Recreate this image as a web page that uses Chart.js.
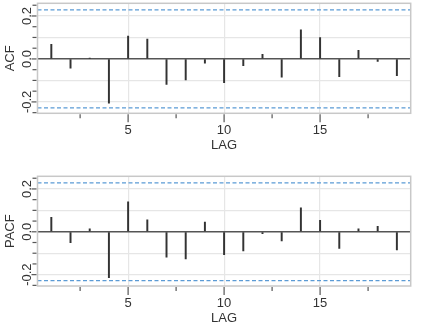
<!DOCTYPE html>
<html>
<head>
<meta charset="utf-8">
<script src="https://cdn.jsdelivr.net/npm/chart.js@4.4.1/dist/chart.umd.min.js"></script>
<style>
  html, body { margin:0; padding:0; background:#fff; }
  #wrap { position:relative; width:423px; height:325px; }
  .pane { position:absolute; left:0; width:423px; }
</style>
</head>
<body>
<div id="wrap">
  <div class="pane" style="top:0;height:163px"><canvas id="acf" width="423" height="163"></canvas></div>
  <div class="pane" style="top:163px;height:162px"><canvas id="pacf" width="423" height="162"></canvas></div>
</div>
<script>
// correlogramas: ACF em cima, PACF embaixo
const lags = [1,2,3,4,5,6,7,8,9,10,11,12,13,14,15,16,17,18,19];
const acfVals  = [0.068,-0.043,0.003,-0.206,0.107,0.093,-0.118,-0.098,-0.020,-0.110,-0.031,0.022,-0.085,0.135,0.100,-0.082,0.040,-0.012,-0.078];
const pacfVals = [0.067,-0.051,0.014,-0.214,0.140,0.056,-0.118,-0.127,0.045,-0.107,-0.089,-0.009,-0.043,0.112,0.054,-0.078,0.014,0.026,-0.085];
const confLimit = 0.228;          // 2/sqrt(n)
const xRange = [0.28, 19.72];
const yRange = [-0.253, 0.259];
const yTickLabels = ["-0.2","0.0","0.2"];
const xTickLabels = ["5","10","15"];
const xTitle = "LAG";

const FONT = '13px "Liberation Sans", Arial, sans-serif';
const near = (v, step)=> Math.abs(v/step - Math.round(v/step)) < 1e-6;
const tv = c=> (c && c.tick) ? c.tick.value : NaN;

const decorPlugin = {
  id: "decor",
  afterDraw(chart){
    const ctx = chart.ctx, a = chart.chartArea;
    const xs = chart.scales.x, ys = chart.scales.y;
    ctx.save();
    // caixa
    ctx.strokeStyle = "#c8c8c8"; ctx.lineWidth = 1.5;
    ctx.strokeRect(a.left, a.top, a.right-a.left, a.bottom-a.top);
    // marcas dos eixos
    ctx.strokeStyle = "#555"; ctx.lineWidth = 1.2;
    ys.ticks.forEach(t=>{
      const y = ys.getPixelForValue(t.value);
      const len = near(t.value, 0.2) ? 5 : 4;
      ctx.beginPath(); ctx.moveTo(a.left-1, y); ctx.lineTo(a.left-1-len, y); ctx.stroke();
    });
    xs.ticks.forEach(t=>{
      const x = xs.getPixelForValue(t.value);
      const len = near(t.value, 5) ? 8 : 4;
      ctx.beginPath(); ctx.moveTo(x, a.bottom+1); ctx.lineTo(x, a.bottom+1+len); ctx.stroke();
    });
    // textos
    ctx.fillStyle = "#333"; ctx.font = FONT;
    ctx.textAlign = "center"; ctx.textBaseline = "middle";
    xTickLabels.forEach(l=>{
      ctx.fillText(l, xs.getPixelForValue(parseFloat(l)), a.bottom+17.5);
    });
    ctx.fillText(xTitle, (a.left+a.right)/2, a.bottom+32);
    yTickLabels.forEach(l=>{
      const y = ys.getPixelForValue(parseFloat(l));
      ctx.save(); ctx.translate(27, y); ctx.rotate(-Math.PI/2);
      ctx.fillText(l, 0, 0); ctx.restore();
    });
    ctx.save(); ctx.translate(10, (a.top+a.bottom)/2); ctx.rotate(-Math.PI/2);
    ctx.fillText(chart.options.plugins.decor.title, 0, 0); ctx.restore();
    ctx.restore();
  }
};

function panel(id, vals, title, padTop, xHeight){
  const limitLine = v => ({
    type:"line",
    data:[{x:xRange[0], y:v},{x:xRange[1], y:v}],
    borderColor:"#5b9bd5", borderWidth:1.3, borderDash:[4,2.5],
    pointRadius:0, order:2
  });
  return new Chart(document.getElementById(id), {
    type:"bar",
    data:{
      datasets:[
        { data: lags.map((l,i)=>({x:l, y:vals[i]})), backgroundColor:"#333",
          barThickness:1.3, borderWidth:0, order:1 },
        limitLine(confLimit),
        limitLine(-confLimit)
      ]
    },
    options:{
      responsive:false, animation:false,
      layout:{ padding:{ top:padTop, right:12.3, left:0, bottom:0 } },
      plugins:{ legend:{display:false}, tooltip:{enabled:false}, decor:{ title } },
      scales:{
        x:{
          type:"linear", min:xRange[0], max:xRange[1], offset:false,
          ticks:{ display:false, stepSize:2.5, includeBounds:false },
          grid:{ offset:false, drawTicks:false, color: c=> near(tv(c),5) ? "#e6e6e6" : "rgba(0,0,0,0)", lineWidth:1.2 },
          border:{ display:false },
          afterFit: s=>{ s.height = xHeight; }
        },
        y:{
          min:yRange[0], max:yRange[1],
          ticks:{ display:false, stepSize:0.05, includeBounds:false },
          grid:{
            drawTicks:false,
            color: c=> Math.abs(tv(c)) < 1e-6 ? "#555" : (near(tv(c),0.1) ? "#e6e6e6" : "rgba(0,0,0,0)"),
            lineWidth: c=> Math.abs(tv(c)) < 1e-6 ? 1.5 : 1.2
          },
          border:{ display:false },
          afterFit: s=>{ s.width = 37.5; }
        }
      }
    },
    plugins:[decorPlugin]
  });
}

panel("acf", acfVals, "ACF", 3.3, 49.7);
panel("pacf", pacfVals, "PACF", 13.3, 39);
</script>
</body>
</html>
